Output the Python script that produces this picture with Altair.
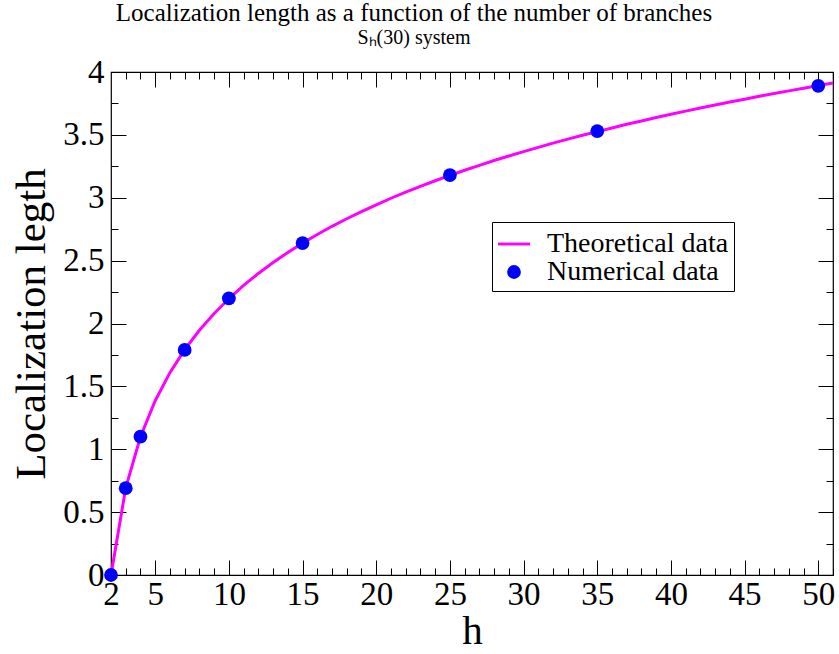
import altair as alt
import pandas as pd

FONT = "Liberation Serif"

# Theoretical curve (read at integer h)
h_theory = list(range(2, 52))
len_theory = [0.000, 0.693, 1.099, 1.386, 1.609, 1.792, 1.946, 2.079, 2.197, 2.303,
              2.398, 2.485, 2.565, 2.639, 2.708, 2.773, 2.833, 2.890, 2.944, 2.996,
              3.045, 3.091, 3.135, 3.178, 3.219, 3.258, 3.296, 3.332, 3.367, 3.401,
              3.434, 3.466, 3.497, 3.526, 3.555, 3.584, 3.611, 3.638, 3.664, 3.689,
              3.714, 3.738, 3.761, 3.784, 3.807, 3.829, 3.850, 3.871, 3.892, 3.912]

# Numerical points
h_num = [2, 3, 4, 7, 10, 15, 25, 35, 50]
len_num = [0.00, 0.69, 1.10, 1.79, 2.20, 2.64, 3.18, 3.53, 3.89]

series_names = ["Theoretical data", "Numerical data"]
series_colors = ["#FF00FF", "#0000FF"]

x_labels = [2, 5, 10, 15, 20, 25, 30, 35, 40, 45, 50]
x_major = [5, 10, 15, 20, 25, 30, 35, 40, 45, 50]
x_minor = list(range(3, 52))
y_labels = [0, 0.5, 1, 1.5, 2, 2.5, 3, 3.5, 4]
y_minor = [0.25, 0.75, 1.25, 1.75, 2.25, 2.75, 3.25, 3.75]

theory_df = pd.DataFrame({"h": h_theory, "L": len_theory, "series": series_names[0]})
num_df = pd.DataFrame({"h": h_num, "L": len_num, "series": series_names[1]})

xscale = alt.Scale(domain=[2, 51], nice=False, zero=False)
yscale = alt.Scale(domain=[0, 4], nice=False, zero=False)


def tick_axis(orient, values, size):
    return alt.Axis(orient=orient, values=values, tickSize=size, offset=-size,
                    labels=False, domain=False, grid=False, title=None,
                    ticks=True, tickColor="black", tickWidth=1)


main_x_axis = alt.Axis(orient="bottom", values=x_labels, format="~g",
                       labelFont=FONT, labelFontSize=33, labelColor="black",
                       labelPadding=3, labelOverlap=False, labelFlush=False,
                       ticks=False, tickSize=0, domain=False, grid=False,
                       title="h", titleFont=FONT, titleFontSize=41,
                       titleFontWeight="normal", titleColor="black", titlePadding=0)
main_y_axis = alt.Axis(orient="left", values=y_labels, format="~g",
                       labelFont=FONT, labelFontSize=33, labelColor="black",
                       labelPadding=7, labelOverlap=False, labelFlush=False,
                       ticks=False, tickSize=0, domain=False, grid=False,
                       title="Localization legth", titleFont=FONT, titleFontSize=43,
                       titleFontWeight="normal", titleColor="black", titlePadding=9)

legend = alt.Legend(orient="none", legendX=381, legendY=150, title=None,
                    labelFont=FONT, labelFontSize=28, labelColor="black",
                    labelLimit=400,
                    strokeColor="black", fillColor="white", padding=5,
                    labelOffset=16, rowPadding=0, symbolOpacity=1)

line = alt.Chart(theory_df).mark_line(color="#FF00FF", strokeWidth=3).encode(
    x=alt.X("h:Q", scale=xscale, axis=main_x_axis),
    y=alt.Y("L:Q", scale=yscale, axis=main_y_axis),
)

points = alt.Chart(num_df).mark_point(filled=True, opacity=1).encode(
    x=alt.X("h:Q", scale=xscale, axis=tick_axis("bottom", x_major, 15)),
    y=alt.Y("L:Q", scale=yscale, axis=tick_axis("left", y_labels, 15)),
    color=alt.Color("series:N", scale=alt.Scale(domain=series_names, range=series_colors), legend=legend),
    shape=alt.Shape("series:N", scale=alt.Scale(domain=series_names,
                    range=["M-1,-0.09L1,-0.09L1,0.09L-1,0.09Z", "circle"]), legend=legend),
    size=alt.Size("series:N", scale=alt.Scale(domain=series_names, range=[1024, 190]), legend=legend),
)


def dummy(xaxis, yaxis):
    return alt.Chart(num_df).mark_point(opacity=0).encode(
        x=alt.X("h:Q", scale=xscale, axis=xaxis),
        y=alt.Y("L:Q", scale=yscale, axis=yaxis),
    )


d1 = dummy(tick_axis("bottom", x_minor, 7), tick_axis("left", y_minor, 7))
d2 = dummy(tick_axis("top", x_major, 15), tick_axis("right", y_labels, 15))
d3 = dummy(tick_axis("top", x_minor, 7), tick_axis("right", y_minor, 7))

chart = alt.layer(line, points, d1, d2, d3).resolve_axis(
    x="independent", y="independent"
).properties(
    width=722,
    height=503,
    autosize=alt.AutoSizeParams(type="none"),
    padding={"left": 111, "top": 72, "right": 6, "bottom": 79},
    background="white",
    title=alt.TitleParams(
        text="Localization length as a function of the number of branches",
        subtitle="Sₕ(30) system",
        font=FONT, fontSize=25, fontWeight="normal", color="black",
        subtitleFont=FONT, subtitleFontSize=20, subtitleColor="black",
        subtitlePadding=2, anchor="middle", dx=-58, offset=8,
    ),
).configure_view(stroke="black", strokeWidth=1.2).configure_title(
    font=FONT, subtitleFont=FONT, fontWeight="normal"
)

chart.save("out.html", embed_options={"renderer": "svg", "actions": False})
